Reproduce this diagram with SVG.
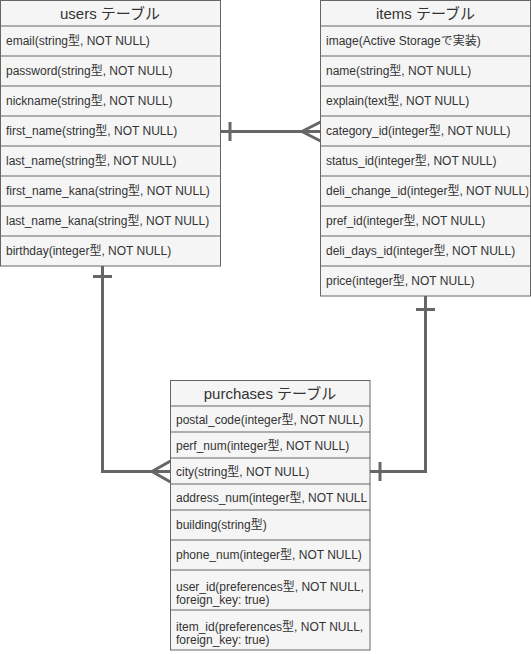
<svg xmlns="http://www.w3.org/2000/svg" width="531" height="654" viewBox="0 0 531 654">
<style>
.tbl{fill:#f5f5f5;stroke:#666666;stroke-width:1}
.sep{stroke:#666666;stroke-width:1}
.hd{font-family:"Liberation Sans","Noto Sans CJK JP",sans-serif;font-size:15px;fill:#333333;text-anchor:middle}
.rw{font-family:"Liberation Sans","Noto Sans CJK JP",sans-serif;font-size:12px;fill:#333333}
.cn{fill:none;stroke:#666666;stroke-width:3}
</style>
<defs>
<clipPath id="clipItems"><rect x="320" y="0" width="208.5" height="296"/></clipPath>
<clipPath id="clipPurch"><rect x="170" y="380" width="197" height="270"/></clipPath>
</defs>
<g id="users">
<rect class="tbl" x="0.5" y="0.5" width="220" height="265.5"/>
<path class="sep" d="M0.5 26H220.5M0.5 56H220.5M0.5 86H220.5M0.5 116H220.5M0.5 146H220.5M0.5 176H220.5M0.5 206H220.5M0.5 236H220.5"/>
<text class="hd" x="110" y="18.5">users テーブル</text>
<text class="rw" x="6" y="45">email(string型, NOT NULL)</text>
<text class="rw" x="6" y="75">password(string型, NOT NULL)</text>
<text class="rw" x="6" y="105">nickname(string型, NOT NULL)</text>
<text class="rw" x="6" y="135">first_name(string型, NOT NULL)</text>
<text class="rw" x="6" y="165">last_name(string型, NOT NULL)</text>
<text class="rw" x="6" y="195">first_name_kana(string型, NOT NULL)</text>
<text class="rw" x="6" y="225">last_name_kana(string型, NOT NULL)</text>
<text class="rw" x="6" y="255">birthday(integer型, NOT NULL)</text>
</g>
<g id="items">
<rect class="tbl" x="320.5" y="0.5" width="210" height="295.5"/>
<path class="sep" d="M320.5 26H530.5M320.5 56H530.5M320.5 86H530.5M320.5 116H530.5M320.5 146H530.5M320.5 176H530.5M320.5 206H530.5M320.5 236H530.5M320.5 266H530.5"/>
<text class="hd" x="425.5" y="18.5">items テーブル</text>
<g clip-path="url(#clipItems)">
<text class="rw" x="326" y="45">image(Active Storageで実装)</text>
<text class="rw" x="326" y="75">name(string型, NOT NULL)</text>
<text class="rw" x="326" y="105">explain(text型, NOT NULL)</text>
<text class="rw" x="326" y="135">category_id(integer型, NOT NULL)</text>
<text class="rw" x="326" y="165">status_id(integer型, NOT NULL)</text>
<text class="rw" x="326" y="195">deli_change_id(integer型, NOT NULL)</text>
<text class="rw" x="326" y="225">pref_id(integer型, NOT NULL)</text>
<text class="rw" x="326" y="255">deli_days_id(integer型, NOT NULL)</text>
<text class="rw" x="326" y="285">price(integer型, NOT NULL)</text>
</g>
</g>
<g id="purchases">
<rect class="tbl" x="170.5" y="380.5" width="199.5" height="269.5"/>
<path class="sep" d="M170.5 406H370M170.5 432H370M170.5 458H370M170.5 484H370M170.5 510H370M170.5 540H370M170.5 570H370M170.5 610H370"/>
<text class="hd" x="270" y="398.5">purchases テーブル</text>
<g clip-path="url(#clipPurch)">
<text class="rw" x="176" y="423.5">postal_code(integer型, NOT NULL)</text>
<text class="rw" x="176" y="449.5">perf_num(integer型, NOT NULL)</text>
<text class="rw" x="176" y="475.5">city(string型, NOT NULL)</text>
<text class="rw" x="176" y="501.5">address_num(integer型, NOT NULL)</text>
<text class="rw" x="176" y="529">building(string型)</text>
<text class="rw" x="176" y="559">phone_num(integer型, NOT NULL)</text>
<text class="rw" x="176" y="590.5">user_id(preferences型, NOT NULL,</text>
<text class="rw" x="176" y="604">foreign_key: true)</text>
<text class="rw" x="176" y="630.5">item_id(preferences型, NOT NULL,</text>
<text class="rw" x="176" y="644">foreign_key: true)</text>
</g>
</g>
<g id="connectors">
<path class="cn" d="M220.5 131.5H320.5"/>
<path class="cn" d="M230 122V141"/>
<path class="cn" d="M320.5 122L302 131.5L320.5 141"/>
<path class="cn" d="M102.5 266V471.5H170.5"/>
<path class="cn" d="M93 276.5H112"/>
<path class="cn" d="M170.5 461L152 471.5L170.5 482"/>
<path class="cn" d="M425.5 296V471.5H370"/>
<path class="cn" d="M416 309.5H435"/>
<path class="cn" d="M380 462V481"/>
</g>
</svg>
